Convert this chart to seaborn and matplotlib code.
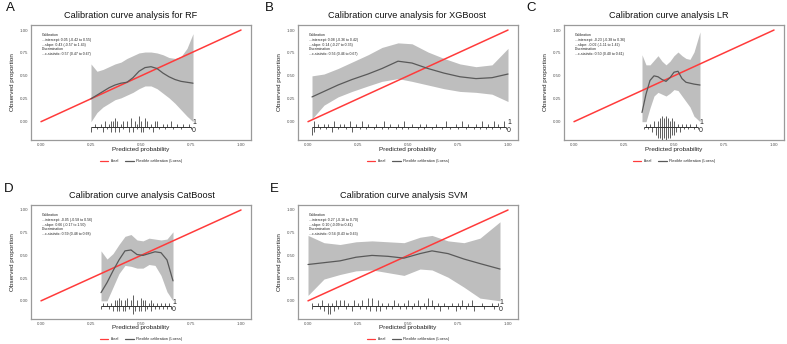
import numpy as np
import pandas as pd
import seaborn as sns
import matplotlib.pyplot as plt
from matplotlib.lines import Line2D

# ---- data ----
panel_letters = ["A", "B", "C", "D", "E"]
panel_titles = ["Calibration curve analysis for RF",
                "Calibration curve analysis for XGBoost",
                "Calibration curve analysis LR",
                "Calibration curve analysis CatBoost",
                "Calibration curve analysis SVM"]

stats_text = [
    "Calibration\n...intercept: 0.05 (-0.42 to 0.55)\n...slope: 0.43 (-0.57 to 1.43)\nDiscrimination\n...c-statistic: 0.57 (0.47 to 0.67)",
    "Calibration\n...intercept: 0.08 (-0.36 to 0.42)\n...slope: 0.14 (-0.27 to 0.35)\nDiscrimination\n...c-statistic: 0.56 (0.46 to 0.67)",
    "Calibration\n...intercept: -0.23 (-0.38 to 0.36)\n...slope: -0.02 (-1.11 to 1.42)\nDiscrimination\n...c-statistic: 0.50 (0.40 to 0.61)",
    "Calibration\n...intercept: -0.05 (-0.58 to 0.56)\n...slope: 0.66 (-0.17 to 1.50)\nDiscrimination\n...c-statistic: 0.59 (0.48 to 0.68)",
    "Calibration\n...intercept: 0.27 (-0.16 to 0.70)\n...slope: 0.10 (-0.09 to 0.41)\nDiscrimination\n...c-statistic: 0.54 (0.43 to 0.63)",
]

# loess curves with confidence band
rf_x = [0.25, 0.28, 0.31, 0.34, 0.37, 0.40, 0.43, 0.46, 0.49, 0.52, 0.55, 0.58, 0.61, 0.64, 0.67, 0.70, 0.73, 0.76]
rf_y = [0.25, 0.29, 0.33, 0.37, 0.40, 0.42, 0.43, 0.48, 0.55, 0.59, 0.60, 0.58, 0.53, 0.49, 0.46, 0.44, 0.43, 0.42]
rf_hi = [0.63, 0.55, 0.57, 0.60, 0.63, 0.65, 0.69, 0.72, 0.75, 0.76, 0.76, 0.75, 0.73, 0.70, 0.69, 0.71, 0.80, 0.96]
rf_lo = [0.00, 0.10, 0.16, 0.20, 0.24, 0.26, 0.29, 0.32, 0.36, 0.39, 0.39, 0.36, 0.31, 0.26, 0.20, 0.13, 0.06, 0.00]

xgb_x = [0.02, 0.08, 0.15, 0.22, 0.30, 0.37, 0.45, 0.52, 0.60, 0.68, 0.76, 0.84, 0.92, 1.00]
xgb_y = [0.27, 0.33, 0.40, 0.46, 0.52, 0.58, 0.66, 0.64, 0.58, 0.53, 0.49, 0.47, 0.48, 0.52]
xgb_hi = [0.50, 0.52, 0.58, 0.65, 0.73, 0.81, 0.86, 0.85, 0.76, 0.69, 0.63, 0.60, 0.62, 0.80]
xgb_lo = [0.03, 0.18, 0.27, 0.33, 0.39, 0.44, 0.47, 0.44, 0.40, 0.36, 0.33, 0.32, 0.30, 0.22]

lr_x = [0.34, 0.36, 0.38, 0.40, 0.42, 0.44, 0.46, 0.48, 0.50, 0.52, 0.54, 0.56, 0.58, 0.60, 0.63]
lr_y = [0.10, 0.30, 0.45, 0.50, 0.49, 0.46, 0.44, 0.48, 0.54, 0.55, 0.47, 0.43, 0.42, 0.41, 0.40]
lr_hi = [0.73, 0.62, 0.62, 0.67, 0.72, 0.66, 0.62, 0.66, 0.72, 0.76, 0.72, 0.69, 0.68, 0.76, 0.98]
lr_lo = [0.00, 0.00, 0.15, 0.28, 0.32, 0.30, 0.28, 0.31, 0.35, 0.34, 0.28, 0.22, 0.16, 0.06, 0.00]

cat_x = [0.30, 0.33, 0.36, 0.39, 0.42, 0.45, 0.48, 0.51, 0.54, 0.57, 0.60, 0.63, 0.66]
cat_y = [0.09, 0.20, 0.33, 0.45, 0.55, 0.56, 0.51, 0.50, 0.52, 0.54, 0.53, 0.45, 0.22]
cat_hi = [0.55, 0.46, 0.52, 0.62, 0.71, 0.73, 0.67, 0.66, 0.69, 0.68, 0.67, 0.68, 0.76]
cat_lo = [0.00, 0.00, 0.15, 0.30, 0.39, 0.38, 0.36, 0.36, 0.40, 0.39, 0.28, 0.10, 0.00]

svm_x = [0.00, 0.08, 0.16, 0.24, 0.32, 0.40, 0.48, 0.56, 0.62, 0.70, 0.78, 0.86, 0.96]
svm_y = [0.40, 0.42, 0.44, 0.48, 0.50, 0.49, 0.47, 0.52, 0.55, 0.52, 0.46, 0.41, 0.35]
svm_hi = [0.72, 0.64, 0.62, 0.65, 0.66, 0.65, 0.64, 0.70, 0.72, 0.66, 0.64, 0.69, 0.87]
svm_lo = [0.06, 0.24, 0.29, 0.33, 0.34, 0.31, 0.28, 0.35, 0.34, 0.26, 0.15, 0.03, 0.00]

# rug of predictions: events (1, drawn up) and non-events (0, drawn down), with counts
rf_rug1_x = [0.27, 0.30, 0.32, 0.34, 0.35, 0.36, 0.37, 0.38, 0.40, 0.41, 0.43, 0.45, 0.47, 0.48,
             0.49, 0.50, 0.52, 0.53, 0.55, 0.57, 0.58, 0.61, 0.63, 0.65, 0.68, 0.71, 0.74]
rf_rug1_n = [1, 1, 2, 1, 2, 2, 3, 2, 1, 2, 2, 3, 2, 1, 4, 2, 3, 2, 1, 2, 2, 1, 1, 2, 1, 1, 1]
rf_rug0_x = [0.25, 0.28, 0.31, 0.33, 0.35, 0.37, 0.39, 0.41, 0.44, 0.46, 0.48, 0.50, 0.51, 0.54,
             0.56, 0.59, 0.62, 0.66, 0.70, 0.75]
rf_rug0_n = [2, 1, 2, 1, 2, 2, 2, 1, 2, 2, 1, 2, 2, 1, 2, 1, 1, 1, 1, 1]

xgb_rug1_x = [0.03, 0.05, 0.08, 0.10, 0.13, 0.16, 0.18, 0.21, 0.24, 0.27, 0.30, 0.34, 0.38, 0.41, 0.45,
              0.48, 0.52, 0.56, 0.59, 0.64, 0.69, 0.74, 0.77, 0.80, 0.84, 0.87, 0.90, 0.93, 0.95, 0.98]
xgb_rug1_n = [2, 1, 1, 1, 2, 1, 1, 2, 1, 2, 1, 1, 2, 1, 1, 2, 1, 1, 1, 1, 2, 1, 2, 1, 1, 2, 1, 2, 1, 2]
xgb_rug0_x = [0.02, 0.03, 0.06, 0.09, 0.12, 0.15, 0.19, 0.22, 0.26, 0.29, 0.33, 0.37, 0.40, 0.44, 0.47,
              0.50, 0.55, 0.58, 0.62, 0.67, 0.71, 0.75, 0.79, 0.83, 0.86, 0.89, 0.92, 0.96, 0.99]
xgb_rug0_n = [3, 2, 1, 1, 2, 1, 1, 2, 1, 1, 1, 1, 1, 1, 1, 1, 1, 1, 1, 1, 1, 1, 1, 1, 1, 1, 1, 1, 1]

lr_rug1_x = [0.36, 0.38, 0.40, 0.42, 0.43, 0.44, 0.45, 0.46, 0.47, 0.48, 0.49, 0.50, 0.52, 0.54, 0.56, 0.58, 0.61]
lr_rug1_n = [1, 1, 2, 2, 3, 4, 3, 4, 3, 2, 3, 2, 1, 1, 1, 1, 1]
lr_rug0_x = [0.35, 0.37, 0.39, 0.41, 0.42, 0.43, 0.44, 0.45, 0.46, 0.47, 0.48, 0.49, 0.50, 0.51,
             0.53, 0.55, 0.57, 0.60, 0.62]
lr_rug0_n = [1, 1, 2, 3, 4, 4, 5, 4, 5, 4, 4, 3, 3, 2, 2, 1, 1, 1, 1]

cat_rug1_x = [0.31, 0.33, 0.35, 0.37, 0.38, 0.39, 0.40, 0.42, 0.43, 0.45, 0.46, 0.48, 0.50, 0.51,
              0.52, 0.54, 0.55, 0.56, 0.58, 0.60, 0.62, 0.64]
cat_rug1_n = [1, 1, 1, 2, 2, 3, 2, 2, 3, 2, 4, 2, 3, 2, 2, 1, 2, 1, 1, 1, 1, 1]
cat_rug0_x = [0.30, 0.34, 0.36, 0.38, 0.39, 0.41, 0.42, 0.44, 0.46, 0.47, 0.49, 0.50, 0.52, 0.53,
              0.55, 0.57, 0.59, 0.61, 0.63, 0.65]
cat_rug0_n = [1, 1, 2, 2, 2, 2, 2, 1, 3, 2, 2, 2, 2, 1, 2, 1, 1, 1, 1, 1]

svm_rug1_x = [0.02, 0.05, 0.07, 0.10, 0.12, 0.14, 0.16, 0.18, 0.20, 0.23, 0.25, 0.27, 0.30, 0.32, 0.35,
              0.37, 0.40, 0.43, 0.45, 0.48, 0.50, 0.53, 0.55, 0.58, 0.60, 0.62, 0.65, 0.68, 0.72, 0.75,
              0.77, 0.80, 0.82, 0.87, 0.92, 0.95]
svm_rug1_n = [1, 1, 2, 1, 1, 2, 2, 2, 1, 2, 1, 2, 3, 3, 2, 1, 1, 2, 1, 1, 2, 1, 2, 1, 3, 2, 1, 1, 1, 1,
              2, 1, 2, 1, 1, 1]
svm_rug0_x = [0.02, 0.06, 0.08, 0.10, 0.11, 0.13, 0.15, 0.19, 0.22, 0.26, 0.29, 0.31, 0.34, 0.36, 0.39,
              0.42, 0.46, 0.49, 0.52, 0.56, 0.59, 0.63, 0.66, 0.70, 0.74, 0.76, 0.79, 0.83, 0.88, 0.93]
svm_rug0_n = [1, 1, 2, 3, 3, 2, 1, 1, 2, 1, 1, 2, 2, 2, 1, 1, 1, 1, 1, 1, 1, 1, 2, 1, 2, 1, 1, 2, 1, 1]

ideal_x = [0.0, 1.0]
ideal_y = [0.0, 1.0]
axis_ticks = [0.00, 0.25, 0.50, 0.75, 1.00]

curves = [(rf_x, rf_y, rf_lo, rf_hi), (xgb_x, xgb_y, xgb_lo, xgb_hi), (lr_x, lr_y, lr_lo, lr_hi),
          (cat_x, cat_y, cat_lo, cat_hi), (svm_x, svm_y, svm_lo, svm_hi)]
rugs = [(rf_rug1_x, rf_rug1_n, rf_rug0_x, rf_rug0_n), (xgb_rug1_x, xgb_rug1_n, xgb_rug0_x, xgb_rug0_n),
        (lr_rug1_x, lr_rug1_n, lr_rug0_x, lr_rug0_n), (cat_rug1_x, cat_rug1_n, cat_rug0_x, cat_rug0_n),
        (svm_rug1_x, svm_rug1_n, svm_rug0_x, svm_rug0_n)]

# ---- figure ----
sns.set_style("white")
plt.rcParams['font.family'] = ['Liberation Sans', 'DejaVu Sans']

W, H = 787, 344
fig = plt.figure(figsize=(W / 100, H / 100), dpi=100)

# panel frames in pixels: left, top, right, bottom
frames = [(31, 25, 251, 140), (298, 25, 518, 140), (564, 25, 784, 140),
          (31, 205, 251, 319), (298, 205, 518, 319)]
title_pos = [(131, 16), (407, 16), (669, 16), (142, 195), (404, 196)]
letter_pos = [(10, 8), (269, 8), (531, 8), (9, 189), (274, 189)]
ylab_x = [13, 279, 546, 13, 280]

RED = "#FF3B3B"
LOESS = "#595959"
BAND = "#BEBEBE"
unit = 0.03
base = -0.055

for i in range(5):
    l, t, r, b = frames[i]
    ax = fig.add_axes([l / W, 1 - b / H, (r - l) / W, (b - t) / H])
    x, y, lo, hi = curves[i]
    df = pd.DataFrame({"pred": x, "obs": y})

    ax.fill_between(x, lo, hi, color=BAND, lw=0, zorder=1)
    sns.lineplot(x=ideal_x, y=ideal_y, ax=ax, color=RED, lw=1.1, zorder=3)
    sns.lineplot(data=df, x="pred", y="obs", ax=ax, color=LOESS, lw=0.9, zorder=4)

    # rug of predictions
    r1x, r1n, r0x, r0n = rugs[i]
    allx = r1x + r0x
    ax.hlines(base, min(allx), max(allx), color="#333333", lw=0.7, zorder=2)
    ax.vlines(r1x, base, base + np.array(r1n) * unit, color="#333333", lw=0.55, zorder=2)
    ax.vlines(r0x, base - np.array(r0n) * unit, base, color="#333333", lw=0.55, zorder=2)
    ax.text(max(allx) + 0.005, base + 0.003, "1", fontsize=5, ha="left", va="bottom", color="#222222")
    ax.text(max(allx) + 0.005, base - 0.003, "0", fontsize=5, ha="left", va="top", color="#222222")

    ax.text(0.005, 0.97, stats_text[i], fontsize=2.5, ha="left", va="top", linespacing=1.3, color="#222222")

    ax.set_xlim(-0.05, 1.05)
    ax.set_ylim(-0.2, 1.055)
    ax.set_xticks(axis_ticks)
    ax.set_yticks(axis_ticks)
    ax.set_xticklabels([f"{v:.2f}" for v in axis_ticks])
    ax.set_yticklabels([f"{v:.2f}" for v in axis_ticks])
    ax.tick_params(labelsize=3.2, colors="#555555", length=0, pad=2)
    ax.set_xlabel("")
    ax.set_ylabel("")
    for s in ax.spines.values():
        s.set_color("#9a9a9a")
        s.set_linewidth(0.9)
    if ax.get_legend() is not None:
        ax.get_legend().remove()

    cx = (l + r) / 2
    fig.text(cx / W, 1 - (b + 9) / H, "Predicted probability", fontsize=4.6, ha="center", va="center", color="#222222")
    fig.text(ylab_x[i] / W, 1 - ((t + b) / 2) / H, "Observed proportion", fontsize=4.6, ha="center",
             va="center", rotation=90, color="#222222")
    fig.text(title_pos[i][0] / W, 1 - title_pos[i][1] / H, panel_titles[i], fontsize=6.6, ha="center",
             va="center", color="#111111")
    fig.text(letter_pos[i][0] / W, 1 - letter_pos[i][1] / H, panel_letters[i], fontsize=9.5, ha="center",
             va="center", color="#111111")

    handles = [Line2D([], [], color=RED, lw=0.9), Line2D([], [], color=LOESS, lw=0.9)]
    leg_y = 161 if i < 3 else 339
    fig.legend(handles, ["Ideal", "Flexible calibration (Loess)"], loc="center",
               bbox_to_anchor=(cx / W, 1 - leg_y / H), ncol=2, fontsize=2.8, frameon=False,
               handlelength=2.2, columnspacing=1.5, handletextpad=0.6)

plt.savefig("out.png", dpi=100)
